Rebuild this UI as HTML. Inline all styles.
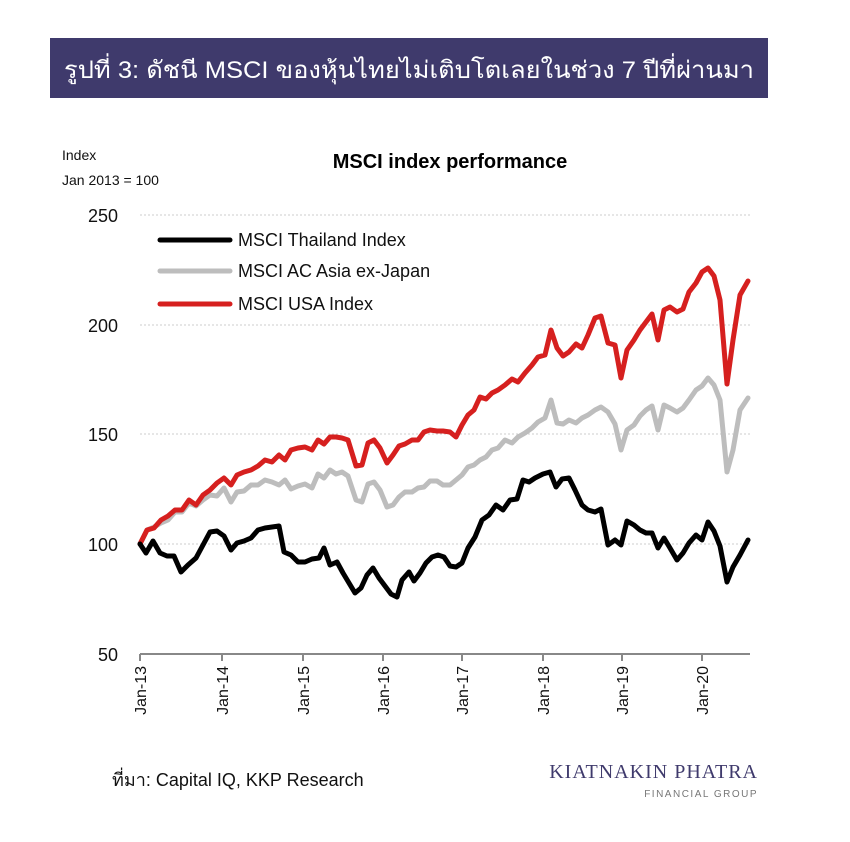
<!DOCTYPE html>
<html><head><meta charset="utf-8"><style>
body{margin:0;background:#fff;width:850px;height:837px;overflow:hidden;font-family:"Liberation Sans","Noto Sans CJK SC",sans-serif}
</style></head><body>
<svg width="850" height="837" xmlns="http://www.w3.org/2000/svg" font-family="Liberation Sans, Noto Sans CJK SC, sans-serif">
<rect x="50" y="38" width="718" height="60" fill="#3f3a6c"/>
<text x="64" y="78" font-size="24" fill="#fff" textLength="690" lengthAdjust="spacingAndGlyphs">รูปที่ 3: ดัชนี MSCI ของหุ้นไทยไม่เติบโตเลยในช่วง 7 ปีที่ผ่านมา</text>
<text x="62" y="160" font-size="14" fill="#111">Index</text>
<text x="62" y="185" font-size="14" fill="#111">Jan 2013 = 100</text>
<text x="450" y="168" font-size="20" font-weight="bold" fill="#000" text-anchor="middle">MSCI index performance</text>
<g stroke="#ccc" stroke-dasharray="2,2" stroke-width="1">
<line x1="140" y1="215" x2="750" y2="215"/><line x1="140" y1="325" x2="750" y2="325"/><line x1="140" y1="434" x2="750" y2="434"/><line x1="140" y1="544" x2="750" y2="544"/>
</g>
<g font-size="18" fill="#111" text-anchor="end">
<text x="118" y="222">250</text><text x="118" y="332">200</text><text x="118" y="441">150</text><text x="118" y="551">100</text><text x="118" y="661">50</text>
</g>
<line x1="140" y1="654" x2="750" y2="654" stroke="#888" stroke-width="2"/>
<g stroke="#888" stroke-width="2">
<line x1="140" y1="654" x2="140" y2="661"/><line x1="222" y1="654" x2="222" y2="661"/><line x1="303" y1="654" x2="303" y2="661"/><line x1="383" y1="654" x2="383" y2="661"/><line x1="462" y1="654" x2="462" y2="661"/><line x1="543" y1="654" x2="543" y2="661"/><line x1="622" y1="654" x2="622" y2="661"/><line x1="702" y1="654" x2="702" y2="661"/>
</g>
<g font-size="16" fill="#111" text-anchor="end">
<text transform="translate(146,666) rotate(-90)">Jan-13</text>
<text transform="translate(228,666) rotate(-90)">Jan-14</text>
<text transform="translate(309,666) rotate(-90)">Jan-15</text>
<text transform="translate(389,666) rotate(-90)">Jan-16</text>
<text transform="translate(468,666) rotate(-90)">Jan-17</text>
<text transform="translate(549,666) rotate(-90)">Jan-18</text>
<text transform="translate(628,666) rotate(-90)">Jan-19</text>
<text transform="translate(708,666) rotate(-90)">Jan-20</text>
</g>
<g fill="none" stroke-width="5" stroke-linejoin="round" stroke-linecap="round">
<polyline stroke="#bdbdbd" points="140,544 147,530 154,527 161,523 168,520 175,512 182,512 189,503 196,506 203,500 210,495 217,496 224,488 231,502 237,492 244,491 251,485 258,485 265,480 272,482 279,485 285,480 291,489 298,486 305,484 312,488 318,474 324,478 330,470 336,474 342,472 348,476 356,500 362,502 368,484 374,482 380,490 387,507 393,505 399,497 405,492 412,492 418,488 424,487 430,481 437,481 443,485 450,485 456,480 462,475 468,467 474,465 480,460 486,457 492,450 498,448 505,440 512,443 518,437 525,433 532,428 538,422 545,418 551,400 557,423 563,424 569,420 576,423 582,418 588,415 595,410 601,407 608,412 615,424 621,450 627,430 634,425 640,416 646,410 652,406 658,430 664,405 670,408 677,412 683,408 689,400 696,390 702,386 708,378 714,385 720,400 727,472 733,450 740,410 748,398"/>
<polyline stroke="#d6201f" points="140,544 147,530 154,528 161,520 168,516 175,510 182,510 189,500 196,505 203,495 210,490 217,483 224,478 231,485 237,475 244,472 251,470 258,466 265,460 272,462 279,455 285,460 291,450 298,448 305,447 312,450 318,440 324,444 330,437 336,437 342,438 348,440 356,466 362,465 368,443 374,440 380,448 387,463 393,455 399,446 405,444 412,440 418,440 424,432 430,430 437,431 443,431 450,432 456,437 462,425 468,415 474,410 480,397 486,399 492,393 498,390 505,385 512,379 518,382 525,373 532,365 538,357 545,355 551,330 557,348 563,356 569,352 576,344 582,348 588,335 595,318 601,316 608,343 615,345 621,378 627,350 634,340 640,330 646,322 652,314 658,340 664,310 670,307 677,312 683,309 689,292 696,283 702,272 708,268 714,276 720,300 727,384 733,340 740,295 748,281"/>
<polyline stroke="#000" points="140,544 146,553 153,541 160,553 167,556 174,556 181,572 188,565 196,558 203,545 210,532 217,531 224,536 231,550 237,543 244,541 251,538 258,530 265,528 272,527 279,526 284,552 291,555 298,562 305,562 312,559 319,558 324,548 330,565 337,562 343,573 349,583 355,593 361,588 367,575 373,568 379,578 385,586 391,594 397,597 402,580 409,572 414,581 420,573 426,563 432,557 438,555 444,557 450,566 456,567 462,563 468,548 475,537 482,520 489,515 496,505 503,510 510,500 517,499 523,480 529,482 535,478 543,474 550,472 556,487 562,479 569,478 575,490 582,505 588,510 595,512 601,509 608,545 615,540 621,545 627,521 634,525 640,530 646,533 652,533 658,548 664,538 670,548 677,560 683,553 689,543 696,535 702,540 708,522 714,531 720,546 727,582 733,567 740,555 748,540"/>
<line x1="160" y1="240" x2="230" y2="240" stroke="#000"/>
<line x1="160" y1="271" x2="230" y2="271" stroke="#bdbdbd"/>
<line x1="160" y1="304" x2="230" y2="304" stroke="#d6201f"/>
</g>
<g font-size="18" fill="#111">
<text x="238" y="246">MSCI Thailand Index</text>
<text x="238" y="277">MSCI AC Asia ex-Japan</text>
<text x="238" y="310">MSCI USA Index</text>
</g>
<text x="112" y="786" font-size="18" fill="#111">ที่มา: Capital IQ, KKP Research</text>
<text x="758" y="778" font-size="20" fill="#3f3a6c" text-anchor="end" font-family="Liberation Serif, serif" letter-spacing="1">KIATNAKIN PHATRA</text>
<text x="758" y="797" font-size="10" fill="#777" text-anchor="end" letter-spacing="1.5">FINANCIAL GROUP</text>
</svg>
</body></html>
